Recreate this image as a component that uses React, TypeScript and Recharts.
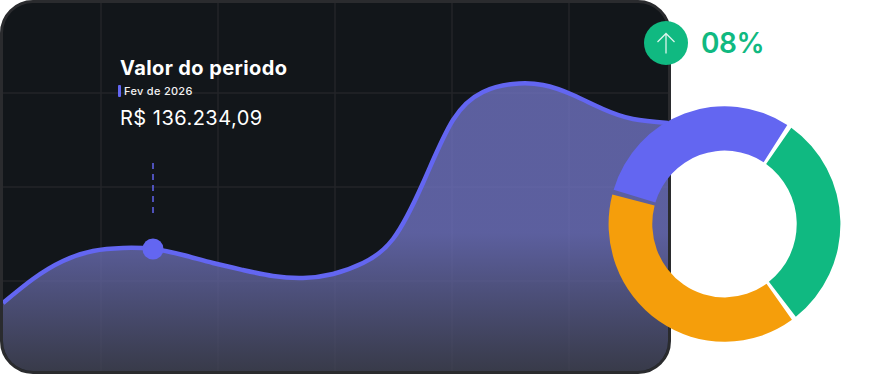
import React from "react";
import { AreaChart, Area, XAxis, YAxis, CartesianGrid, ReferenceDot, ReferenceLine, PieChart, Pie, Cell } from "recharts";

const periodX = [0, 30, 60, 90, 120, 150, 180, 210, 240, 270, 300, 330, 360, 390, 420, 450, 480, 510, 540, 570, 600, 630, 665];
const periodValues = [68, 92, 110, 120, 123, 122, 116, 108, 101, 95, 93, 97, 108, 132, 188, 251, 279, 287, 286, 276, 262, 252, 248];
const series = periodX.map((x, i) => ({ x, value: periodValues[i] }));

const gridX = [98, 215, 332, 449, 566];
const gridY = [90, 184, 278];

const selectedX = 150;
const selectedValue = 122;
const markerRange = [158, 211];

const shareNames = ["Verde", "Laranja", "Roxo"];
const shareValues = [109, 143, 108];
const shareColors = ["#10b981", "#f59e0b", "#6366f1"];
const shares = shareNames.map((name, i) => ({ name, value: shareValues[i] }));

const title = "Valor do periodo";
const periodLabel = "Fev de 2026";
const amount = "R$ 136.234,09";
const growth = "08%";

const FONT = "Inter, sans-serif";
const INDIGO = "#6366f1";

export default function App() {
  return (
    <div style={{ position: "absolute", left: 0, top: 0, width: 888, height: 390, background: "#fff", overflow: "hidden", fontFamily: FONT }}>
      <div style={{ position: "absolute", left: 0, top: 0, width: 665, height: 368, border: "3px solid #2a2b2e", borderRadius: 33, background: "#12161a", overflow: "hidden" }}>
        <AreaChart width={665} height={368} data={series} margin={{ top: 0, right: 0, bottom: 0, left: 0 }}>
          <defs>
            <linearGradient id="fillArea" x1="0" y1="0" x2="0" y2="1">
              <stop offset="0%" stopColor="#7174c4" stopOpacity={0.78} />
              <stop offset="52%" stopColor="#7174c4" stopOpacity={0.78} />
              <stop offset="100%" stopColor="#434557" stopOpacity={0.78} />
            </linearGradient>
          </defs>
          <XAxis dataKey="x" type="number" domain={[0, 665]} hide />
          <YAxis type="number" domain={[0, 368]} hide width={0} />
          <CartesianGrid stroke="#232528" strokeWidth={1.5} verticalValues={gridX} horizontalValues={gridY} />
          <Area type="natural" dataKey="value" stroke={INDIGO} strokeWidth={4.5} fill="url(#fillArea)" fillOpacity={1} isAnimationActive={false} dot={false} activeDot={false} />
          <ReferenceLine segment={[{ x: selectedX, y: markerRange[0] }, { x: selectedX, y: markerRange[1] }]} stroke={INDIGO} strokeWidth={1.5} strokeDasharray="6 5" />
          <ReferenceDot x={selectedX} y={selectedValue} r={10.5} fill={INDIGO} stroke="none" />
        </AreaChart>
      </div>

      <div style={{ position: "absolute", left: 120, top: 55, fontSize: 20, lineHeight: "26px", fontWeight: 700, letterSpacing: 0.4, color: "#fff", whiteSpace: "nowrap" }}>{title}</div>
      <div style={{ position: "absolute", left: 118, top: 85, width: 3, height: 12, background: INDIGO, borderRadius: 1 }} />
      <div style={{ position: "absolute", left: 124, top: 84, fontSize: 11, lineHeight: "14px", fontWeight: 500, letterSpacing: 0.3, color: "#f2f2f2", whiteSpace: "nowrap" }}>{periodLabel}</div>
      <div style={{ position: "absolute", left: 120, top: 105, fontSize: 20, lineHeight: "26px", fontWeight: 400, letterSpacing: 0.48, color: "#fff", whiteSpace: "nowrap" }}>{amount}</div>

      <div style={{ position: "absolute", left: 0, top: 0, transform: "scaleX(0.984)", transformOrigin: "724.5px 224px" }}>
        <PieChart width={888} height={390} margin={{ top: 0, right: 0, bottom: 0, left: 0 }}>
          <Pie data={shares} dataKey="value" cx={724.5} cy={224} innerRadius={73.4} outerRadius={117.8} startAngle={54.8} endAngle={-305.2} paddingAngle={2.4} stroke="none" isAnimationActive={false}>
            {shares.map((s, i) => (
              <Cell key={s.name} fill={shareColors[i]} />
            ))}
          </Pie>
        </PieChart>
      </div>

      <div style={{ position: "absolute", left: 643.5, top: 21, width: 44, height: 44, borderRadius: "50%", background: "#10b981" }}>
        <svg width={44} height={44} viewBox="0 0 44 44">
          <path d="M22 32.5 V12.5 M13.5 21 L22 12.5 L30.5 21" fill="none" stroke="#fff" strokeOpacity={0.85} strokeWidth={1.3} />
        </svg>
      </div>
      <div style={{ position: "absolute", left: 701, top: 26, fontSize: 28, lineHeight: "34px", fontWeight: 600, letterSpacing: -0.4, color: "#10b981", whiteSpace: "nowrap" }}>{growth}</div>
    </div>
  );
}
